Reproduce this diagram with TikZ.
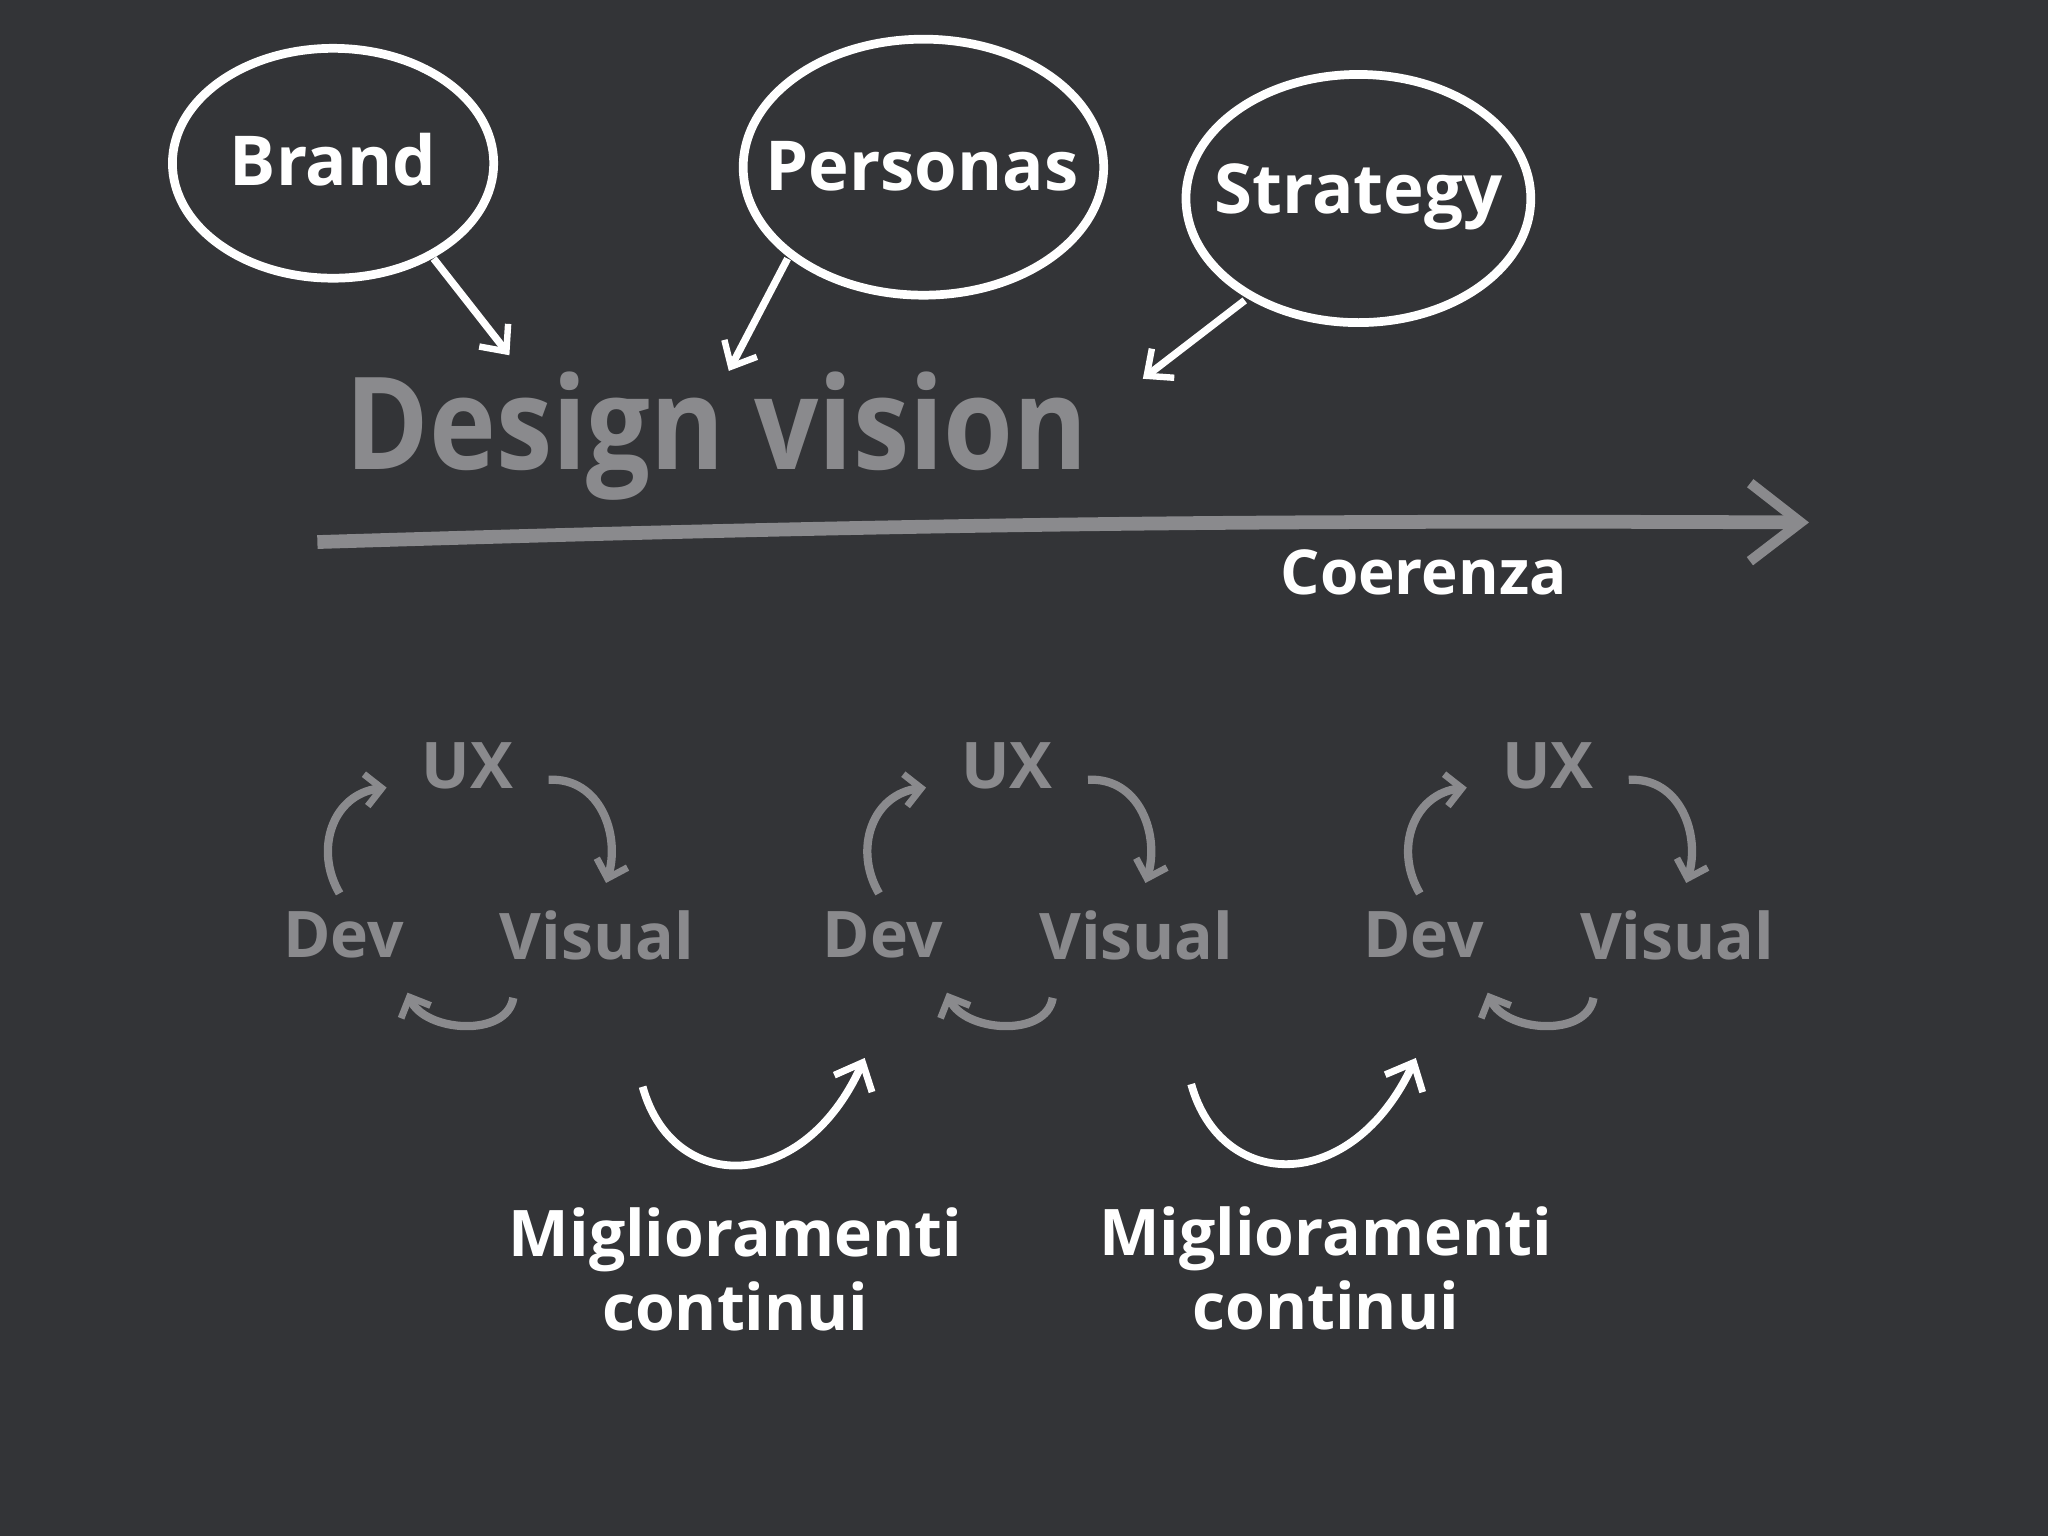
\documentclass[tikz,border=0pt]{standalone}
\usepackage{fontspec}
\setmainfont{Open Sans}
\usetikzlibrary{arrows.meta}
\definecolor{bg}{HTML}{333437}
\definecolor{gr}{HTML}{8A8A8D}
\tikzset{
 bubble/.style={draw=white,line width=3.8pt},
 btxt/.style={text=white,font=\fontsize{30}{34}\selectfont\bfseries},
 ctxt/.style={text=gr,font=\fontsize{28}{32}\selectfont\bfseries},
 ptr/.style={draw=white,line width=3.2pt,-{Straight Barb[length=9pt,width=16pt,line width=2.8pt]}},
 cyc/.style={draw=gr,line width=3.6pt,-{Straight Barb[length=7pt,width=14pt,line width=3pt]}},
 big/.style={draw=white,line width=3.4pt,-{Straight Barb[length=10pt,width=18pt,line width=3pt]}},
}
\begin{document}
\begin{tikzpicture}[x=0.02cm,y=-0.02cm]
\fill[bg] (0,0) rectangle (1568,1176);
\draw[bubble] (255,125) ellipse [x radius=123,y radius=88];
\draw[bubble] (707,128) ellipse [x radius=138,y radius=98];
\draw[bubble] (1040,152) ellipse [x radius=132,y radius=95];
\node[btxt] (brand) at (255,122) {Brand};
\node[btxt] (pers) at (706,127) {Personas};
\node[btxt] (strat) at (1040,151) {Strategy};
\coordinate (b1) at (332,198); \coordinate (b2) at (390,272);
\coordinate (p1) at (603,198); \coordinate (p2) at (558,284);
\coordinate (s1) at (953,230); \coordinate (s2) at (875,290);
\draw[ptr] (b1) -- (b2);
\draw[ptr] (p1) -- (p2);
\draw[ptr] (s1) -- (s2);
\node[text=gr,font=\fontsize{56}{60}\selectfont\bfseries,xscale=0.88] (dv) at (549,334) {Design vision};
\coordinate (a1) at (243,415); \coordinate (a2) at (1385,400);
\draw[draw=gr,line width=6pt,-{Straight Barb[length=22pt,width=34pt,line width=4.5pt]}] (a1) to[bend left=1] (a2);
\node[btxt,font=\fontsize{27}{30}\selectfont\bfseries] (coe) at (1090,438) {Coerenza};
\foreach \i/\d in {1/0,2/413,3/827}{
 \begin{scope}[xshift=\d*0.02cm]
 \node[ctxt] (ux\i) at (358,586) {UX};
 \node[ctxt] (dev\i) at (263,716) {Dev};
 \node[ctxt] (vis\i) at (457,716) {Visual};
 \coordinate (l1) at (260,684); \coordinate (l2) at (296,603);
 \coordinate (r1) at (420,597); \coordinate (r2) at (464,676);
 \coordinate (d1) at (393,764); \coordinate (d2) at (312,760);
 \draw[cyc] (l1) .. controls (240,650) and (255,608) .. (l2);
 \draw[cyc] (r1) .. controls (460,595) and (475,640) .. (r2);
 \draw[cyc] (d1) .. controls (388,795) and (325,790) .. (d2);
 \end{scope}
}
\coordinate (m1) at (492,832); \coordinate (m2) at (662,810);
\coordinate (n1) at (912,830); \coordinate (n2) at (1084,810);
\draw[big] (m1) .. controls (515,915) and (615,915) .. (m2);
\draw[big] (n1) .. controls (935,913) and (1035,915) .. (n2);
\node[btxt,align=center,font=\fontsize{28}{32}\selectfont\bfseries] (mig1) at (563,972) {Miglioramenti\\continui};
\node[btxt,align=center,font=\fontsize{28}{32}\selectfont\bfseries] (mig2) at (1015,971) {Miglioramenti\\continui};
\end{tikzpicture}
\end{document}
